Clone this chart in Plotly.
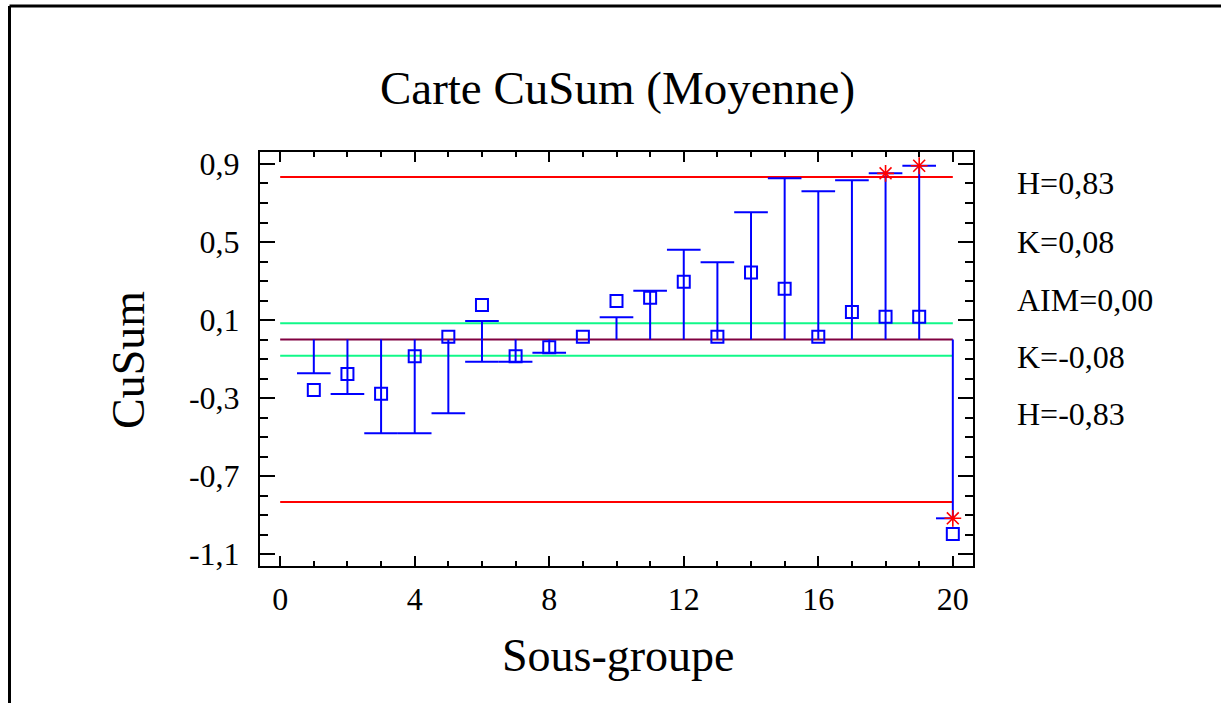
import plotly.graph_objects as go

# ---- data ----
subgroups = list(range(1, 21))
means = [-0.259, -0.177, -0.278, -0.086, 0.014, 0.177, -0.086, -0.040, 0.014, 0.197,
         0.214, 0.296, 0.014, 0.343, 0.260, 0.014, 0.141, 0.117, 0.117, -0.997]
cusum_upper = [0, 0, 0, 0, 0, 0.095, 0, 0, 0, 0.114,
               0.250, 0.460, 0.396, 0.652, 0.827, 0.760, 0.816, 0.852, 0.891, 0]
cusum_lower = [-0.173, -0.279, -0.481, -0.481, -0.378, -0.114, -0.114, -0.068, 0, 0,
               0, 0, 0, 0, 0, 0, 0, 0, 0, -0.917]
H = 0.833
K = 0.0833
AIM = 0.0
side_labels = ["H=0,83", "K=0,08", "AIM=0,00", "K=-0,08", "H=-0,83"]
y_tickvals = [0.9, 0.5, 0.1, -0.3, -0.7, -1.1]
y_ticktext = ["0,9", "0,5", "0,1", "-0,3", "-0,7", "-1,1"]
x_tickvals = [0, 4, 8, 12, 16, 20]
title_text = "Carte CuSum (Moyenne)"
x_title = "Sous-groupe"
y_title = "CuSum"

FONT = "Liberation Serif"
BLUE = "#0000ff"
RED = "#ff0000"
GREEN = "#10f888"
CENTER = "#800040"

W, Hh = 1221, 703
L, R, T, B = 260, 248, 152, 137
pw, ph = W - L - R, Hh - T - B


def px_to_paper_x(px):
    return (px - L) / pw


def px_to_paper_y(py):
    return (Hh - B - py) / ph


x0, x1 = 0, subgroups[-1]

fig = go.Figure()

# control lines
for yv, col in [(H, RED), (-H, RED), (K, GREEN), (-K, GREEN), (AIM, CENTER)]:
    fig.add_trace(go.Scatter(x=[x0, x1], y=[yv, yv], mode="lines",
                             line=dict(color=col, width=2),
                             hoverinfo="skip", showlegend=False))

# cusum bars with caps
xs, ys = [], []
for i, su, sl in zip(subgroups, cusum_upper, cusum_lower):
    for s in (su, sl):
        if s != 0:
            xs += [i, i, None, i - 0.5, min(i + 0.5, x1), None]
            ys += [0, s, None, s, s, None]
fig.add_trace(go.Scatter(x=xs, y=ys, mode="lines", line=dict(color=BLUE, width=2),
                         hoverinfo="skip", showlegend=False))

# means as open squares
fig.add_trace(go.Scatter(x=subgroups, y=means, mode="markers",
                         marker=dict(symbol="square-open", size=12, color=BLUE,
                                     line=dict(width=2, color=BLUE)),
                         showlegend=False))

# out-of-control stars
sx, sy = [], []
for i, su, sl in zip(subgroups, cusum_upper, cusum_lower):
    if su > H:
        sx.append(i); sy.append(su)
    if sl < -H:
        sx.append(i); sy.append(sl)
fig.add_trace(go.Scatter(x=sx, y=sy, mode="markers",
                         marker=dict(symbol="asterisk-open", size=14, color=RED,
                                     line=dict(width=1.6, color=RED)),
                         showlegend=False))

annotations = []
label_py = [183, 242, 300, 357, 414]
for txt, py in zip(side_labels, label_py):
    annotations.append(dict(text=txt, xref="paper", yref="paper", x=px_to_paper_x(1015),
                            y=px_to_paper_y(py), xanchor="left", yanchor="middle",
                            showarrow=False, font=dict(family=FONT, size=32, color="black")))
annotations.append(dict(text=x_title, xref="paper", yref="paper", x=px_to_paper_x(618),
                        y=px_to_paper_y(655), xanchor="center", yanchor="middle",
                        showarrow=False, font=dict(family=FONT, size=46, color="black")))
annotations.append(dict(text=y_title, xref="paper", yref="paper", x=px_to_paper_x(128),
                        y=px_to_paper_y(360), xanchor="center", yanchor="middle",
                        textangle=-90, showarrow=False,
                        font=dict(family=FONT, size=46, color="black")))

# outer frame (top and left edges)
fx = px_to_paper_x(9.5)
fy = px_to_paper_y(6)
shapes = [
    dict(type="line", xref="paper", yref="paper", x0=fx, x1=fx, y0=px_to_paper_y(710), y1=fy,
         line=dict(color="black", width=3)),
    dict(type="line", xref="paper", yref="paper", x0=fx, x1=px_to_paper_x(1230), y0=fy, y1=fy,
         line=dict(color="black", width=3)),
]

fig.update_layout(
    width=W, height=Hh,
    margin=dict(l=L, r=R, t=T, b=B, pad=0),
    paper_bgcolor="white", plot_bgcolor="white",
    title=dict(text=title_text, x=px_to_paper_x(617.5), xref="paper", xanchor="center",
               y=1 - 88 / Hh, yref="container", yanchor="middle",
               font=dict(family=FONT, size=47, color="black")),
    annotations=annotations,
    shapes=shapes,
    showlegend=False,
    font=dict(family=FONT, color="black"),
)

fig.update_xaxes(range=[-0.6, 20.6], tickvals=x_tickvals, ticktext=[str(v) for v in x_tickvals],
                 ticks="inside", ticklen=10, tickwidth=2, tickcolor="black",
                 minor=dict(dtick=1, tick0=0, ticks="inside", ticklen=5, tickwidth=2,
                            tickcolor="black", showgrid=False),
                 showline=True, linecolor="black", linewidth=2, mirror="ticks",
                 showgrid=False, zeroline=False, ticklabelstandoff=4,
                 tickfont=dict(family=FONT, size=32, color="black"))
fig.update_yaxes(range=[-1.1615, 0.9615], tickvals=y_tickvals, ticktext=y_ticktext,
                 ticks="inside", ticklen=15, tickwidth=2, tickcolor="black",
                 minor=dict(dtick=0.1, tick0=-1.1, ticks="inside", ticklen=8, tickwidth=2,
                            tickcolor="black", showgrid=False),
                 showline=True, linecolor="black", linewidth=2, mirror="ticks",
                 showgrid=False, zeroline=False, ticklabelstandoff=12,
                 tickfont=dict(family=FONT, size=32, color="black"))

fig.write_html("out.html")
